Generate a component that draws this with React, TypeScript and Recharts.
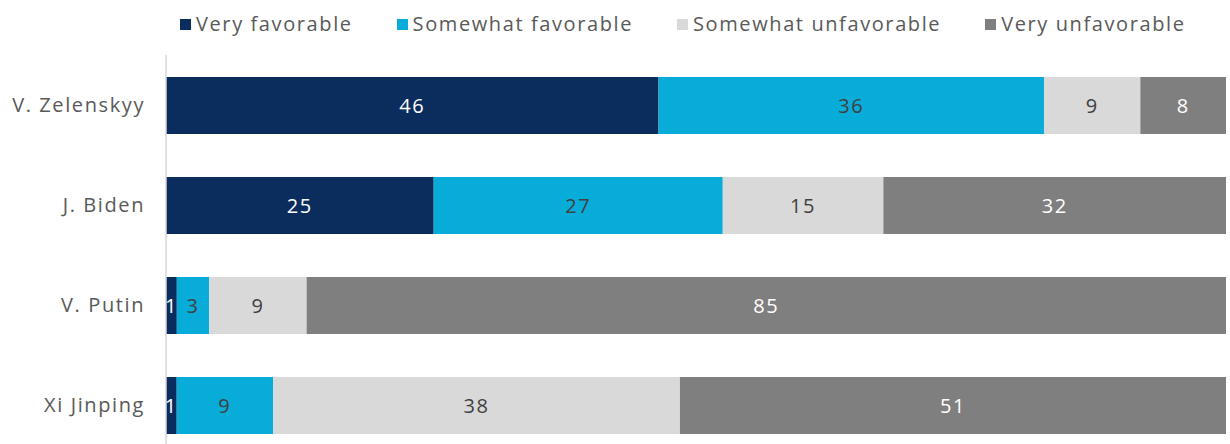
import React from 'react';
import { BarChart, Bar, XAxis, YAxis, LabelList } from 'recharts';

const leaders = ['V. Zelenskyy', 'J. Biden', 'V. Putin', 'Xi Jinping'];
const veryFavorable = [46, 25, 1, 1];
const somewhatFavorable = [36, 27, 3, 9];
const somewhatUnfavorable = [9, 15, 9, 38];
const veryUnfavorable = [8, 32, 85, 51];

const series = [
  { key: 'veryFav', name: 'Very favorable', color: '#0a2d5e', text: '#ffffff', values: veryFavorable },
  { key: 'someFav', name: 'Somewhat favorable', color: '#07acd9', text: '#404040', values: somewhatFavorable },
  { key: 'someUnfav', name: 'Somewhat unfavorable', color: '#d9d9d9', text: '#404040', values: somewhatUnfavorable },
  { key: 'veryUnfav', name: 'Very unfavorable', color: '#7f7f7f', text: '#ffffff', values: veryUnfavorable },
];

const data = leaders.map((name, i) => {
  const row: Record<string, string | number> = { name };
  series.forEach((s) => { row[s.key] = s.values[i]; });
  return row;
});

const FONT = '"Open Sans", sans-serif';
const SPACING = 1.6;

const LegendRow = () => (
  <div
    style={{
      position: 'absolute', left: 180, top: 10, display: 'flex', gap: 44,
      fontFamily: FONT, fontSize: 20, letterSpacing: SPACING, color: '#595959', lineHeight: '28px',
    }}
  >
    {series.map((s) => (
      <div key={s.key} style={{ display: 'flex', alignItems: 'center' }}>
        <span style={{ width: 11, height: 11, background: s.color, marginRight: 5, display: 'inline-block' }} />
        <span>{s.name}</span>
      </div>
    ))}
  </div>
);

export default function App() {
  return (
    <div style={{ position: 'absolute', left: 0, top: 0, width: 1230, height: 470, background: '#fff' }}>
      <LegendRow />
      <BarChart
        width={1230}
        height={470}
        data={data}
        layout="vertical"
        stackOffset="expand"
        margin={{ top: 55, right: 4, bottom: 15, left: 0 }}
      >
        <XAxis type="number" hide domain={[0, 1]} />
        <YAxis
          type="category"
          dataKey="name"
          width={166}
          tickLine={false}
          tickSize={0}
          tickMargin={21}
          axisLine={{ stroke: '#d9d9d9', strokeWidth: 1.5 }}
          tick={{ fill: '#595959', fontSize: 20, fontFamily: FONT, letterSpacing: SPACING }}
        />
        {series.map((s) => (
          <Bar key={s.key} dataKey={s.key} name={s.name} stackId="a" fill={s.color} barSize={57} isAnimationActive={false}>
            <LabelList
              dataKey={s.key}
              position="center"
              fill={s.text}
              fontSize={20}
              fontFamily={FONT}
              style={{ letterSpacing: SPACING }}
            />
          </Bar>
        ))}
      </BarChart>
    </div>
  );
}
